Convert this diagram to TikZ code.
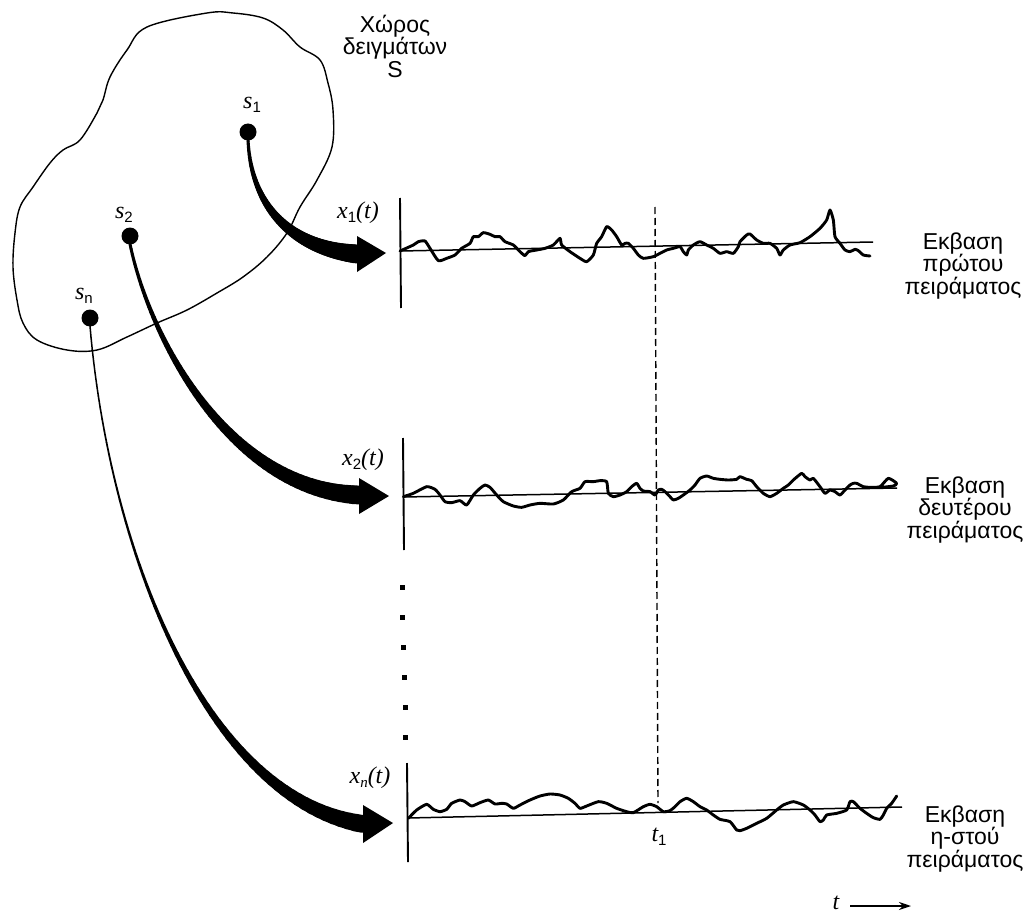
\documentclass[tikz,border=0pt]{standalone}
\usepackage{fontspec}
\setmainfont{Liberation Sans}
\newfontfamily\tms{Liberation Serif}
\usetikzlibrary{arrows.meta}
\newcommand\tsub[1]{\raisebox{-4pt}{\fontsize{15}{15}\selectfont #1}}
\newcommand\wst{3}
\newcommand\wen{19}
\newcommand\wpw{1.5}
\newcommand\tpshaft[8]{%
  \foreach \k in {0,...,59}{%
    \pgfmathsetmacro\ta{\k/60}%
    \pgfmathsetmacro\tb{(\k+1)/60}%
    \pgfmathsetmacro\tm{(\k+0.5)/60}%
    \pgfmathsetmacro\xa{(1-\ta)^3*#1+3*(1-\ta)^2*\ta*#3+3*(1-\ta)*\ta^2*#5+\ta^3*#7}%
    \pgfmathsetmacro\ya{(1-\ta)^3*#2+3*(1-\ta)^2*\ta*#4+3*(1-\ta)*\ta^2*#6+\ta^3*#8}%
    \pgfmathsetmacro\xb{(1-\tb)^3*#1+3*(1-\tb)^2*\tb*#3+3*(1-\tb)*\tb^2*#5+\tb^3*#7}%
    \pgfmathsetmacro\yb{(1-\tb)^3*#2+3*(1-\tb)^2*\tb*#4+3*(1-\tb)*\tb^2*#6+\tb^3*#8}%
    \pgfmathsetmacro\wa{\wst+(\wen-\wst)*\tm^\wpw}%
    \draw[line width=\wa pt,line cap=round] (\xa,\ya) -- (\xb,\yb);
  }}
\begin{document}
\begin{tikzpicture}[x=1pt,y=-1pt,
  dot/.style={circle,fill,inner sep=0pt,minimum size=17pt},
  sqdot/.style={rectangle,fill,inner sep=0pt,minimum size=5pt},
  greek/.style={align=center,inner sep=0pt,font=\fontsize{23}{22.5}\selectfont},
  lab/.style={inner sep=0pt,font=\fontsize{24}{26}\selectfont},
  wave/.style={line width=2.9pt,line join=round,line cap=round},
  base/.style={line width=1.5pt},
  axis/.style={line width=1.9pt},
  head/.style={fill}]
\useasboundingbox (0,0) rectangle (1031,915);

% sample space blob
\draw[line width=1.4pt] plot[smooth cycle, tension=0.6] coordinates {
 (207,13) (147,27) (127,50) (110,77) (103,100) (97,113) (80,140) (63,150)
 (50,163) (33,187) (20,207) (15,233) (13,267) (17,300) (23,323) (37,340)
 (67,350) (97,350) (127,337) (157,323) (187,310) (217,293) (243,277)
 (267,257) (287,233) (300,207) (317,180) (332,147) (333,110) (328,83)
 (320,60) (300,47) (283,30) (263,18) (233,13)};

\node[greek] (title) at (395,46) {Χώρος\\δειγμάτων\\S};

% sample points
\node[dot] (s1) at (248,132) {};
\node[dot] (s2) at (130,236) {};
\node[dot] (sn) at (90,318) {};
\node[lab] (ls1) at (252,105) {{\tms\itshape s}\tsub{1}};
\node[lab] (ls2) at (124,215) {{\tms\itshape s}\tsub{2}};
\node[lab] (lsn) at (84,296) {{\tms\itshape s}\tsub{n}};

% tapered arrows
\tpshaft{248}{138}{250}{205}{290}{248}{357}{254}
\fill (357,236) -- (386,253) -- (357,272) -- cycle;
\renewcommand\wpw{1.7}
\tpshaft{130}{244}{150}{340}{230}{490}{359}{495}
\fill (359,478) -- (389,496) -- (359,514) -- cycle;
\renewcommand\wst{1.5}\renewcommand\wen{18}\renewcommand\wpw{2.5}
\tpshaft{90}{326}{110}{560}{210}{800}{363}{824}
\fill (363,805) -- (393,823) -- (363,843) -- cycle;

% axes
\draw[axis] (400,198) -- (401,308);
\draw[axis] (403,438) -- (404,550);
\draw[axis] (407,763) -- (408,862);
\draw[base] (400,251) -- (873,242);
\draw[base] (403,497) -- (897,488);
\draw[base] (408,818) -- (902,807);

\node[lab] (lx1) at (358,213) {{\tms\itshape x}\tsub{1}{\tms\itshape (t)}};
\node[lab] (lx2) at (363,460) {{\tms\itshape x}\tsub{2}{\tms\itshape (t)}};
\node[lab] (lxn) at (370,778) {{\tms\itshape x}\tsub{\tms\itshape n}{\tms\itshape (t)}};

% dashed time line
\draw[line width=1.4pt,dash pattern=on 7pt off 4pt] (655,207) -- (658,803);
\node[lab] (lt1) at (659,837) {{\tms\itshape t}\tsub{1}};

% vertical dots
\foreach \yy/\xx [count=\c] in {587/402,617/402,647/403,677/404,707/405,737/405}
  \node[sqdot] (d\c) at (\xx,\yy) {};

% waveforms
\begin{scope}[shift={(380,190)},scale=0.33333]
\draw[wave] plot[smooth,tension=0.35] coordinates {
(60,183) (100,165) (115,155) (135,153) (150,175) (175,212) (200,205) (225,195)
(245,175) (270,160) (280,140) (295,140) (310,128) (330,133) (345,140) (360,140)
(375,155) (400,165) (420,185) (435,197) (445,185) (470,180) (495,175) (520,165)
(540,145) (545,165) (570,185) (600,205) (620,215) (640,195) (650,160) (665,140)
(680,110) (695,120) (710,140) (725,165) (735,160) (745,160) (760,175) (775,195)
(790,205) (820,200) (840,190) (860,180) (880,175) (900,170) (910,185) (920,195)
(925,180) (940,165) (960,155) (980,165) (1000,175) (1020,190) (1040,185) (1060,190)
(1075,170) (1080,155) (1100,135) (1110,132) (1130,150) (1150,160) (1170,160)
(1190,175) (1200,195) (1210,180) (1230,165) (1260,158) (1290,140) (1320,115)
(1340,90) (1350,60) (1360,90) (1365,140) (1380,160) (1395,180) (1410,185)
(1425,178) (1435,182) (1450,195) (1470,198)};
\end{scope}
\begin{scope}[shift={(380,430)},scale=0.33333]
\draw[wave] plot[smooth,tension=0.35] coordinates {
(70,200) (100,190) (140,170) (165,178) (180,195) (195,215) (215,218) (240,212)
(260,225) (280,195) (300,175) (315,165) (330,172) (350,195) (370,215) (400,228)
(425,232) (450,225) (480,220) (520,222) (550,210) (575,185) (600,175) (615,155)
(640,155) (660,152) (680,155) (685,190) (700,200) (720,195) (740,185) (755,170)
(770,160) (780,175) (790,183) (810,185) (825,195) (835,180) (845,178) (855,185)
(870,200) (880,210) (895,205) (910,195) (930,180) (945,165) (960,145) (980,138)
(1000,145) (1020,148) (1045,150) (1070,148) (1080,140) (1100,148) (1115,152)
(1130,170) (1150,190) (1170,200) (1190,190) (1210,175) (1225,165) (1240,150)
(1265,130) (1275,140) (1290,150) (1300,145) (1320,170) (1335,190) (1350,180)
(1365,185) (1380,195) (1395,180) (1410,165) (1420,160) (1430,160) (1450,170)
(1470,172) (1500,170) (1525,145) (1550,160) (1540,168) (1505,172)};
\end{scope}
\begin{scope}[shift={(380,760)},scale=0.33333]
\draw[wave] plot[smooth,tension=0.35] coordinates {
(85,175) (110,150) (140,133) (160,148) (180,155) (200,148) (215,130) (240,120)
(255,125) (275,138) (300,128) (325,120) (345,132) (365,130) (380,132) (400,145)
(420,135) (450,120) (480,108) (510,102) (540,105) (565,115) (585,130) (600,145)
(620,138) (655,125) (680,130) (710,145) (740,155) (760,158) (790,140) (810,133)
(830,140) (850,155) (870,152) (885,140) (900,125) (920,115) (940,125) (960,140)
(980,150) (1000,165) (1020,178) (1050,185) (1070,210) (1080,212) (1100,205)
(1130,190) (1160,175) (1190,150) (1210,135) (1240,125) (1270,135) (1290,150)
(1305,165) (1320,185) (1330,180) (1340,165) (1370,160) (1400,150) (1410,125)
(1420,125) (1440,145) (1460,160) (1480,173) (1500,178) (1510,165) (1520,145)
(1535,130) (1550,108)};
\end{scope}

% outcome labels
\node[greek] (o1) at (963,266) {Εκβαση\\πρώτου\\πειράματος};
\node[greek] (o2) at (965,510) {Εκβαση\\δευτέρου\\πειράματος};
\node[greek] (o3) at (965,839) {Εκβαση\\η-στού\\πειράματος};

% time arrow
\node[lab] (tl) at (836,903) {{\tms\itshape t}};
\coordinate (ta) at (850,906);
\coordinate (tb) at (911,906);
\draw[line width=1.4pt,-{Stealth[length=12pt,width=8pt]}] (ta) -- (tb);
\end{tikzpicture}
\end{document}
